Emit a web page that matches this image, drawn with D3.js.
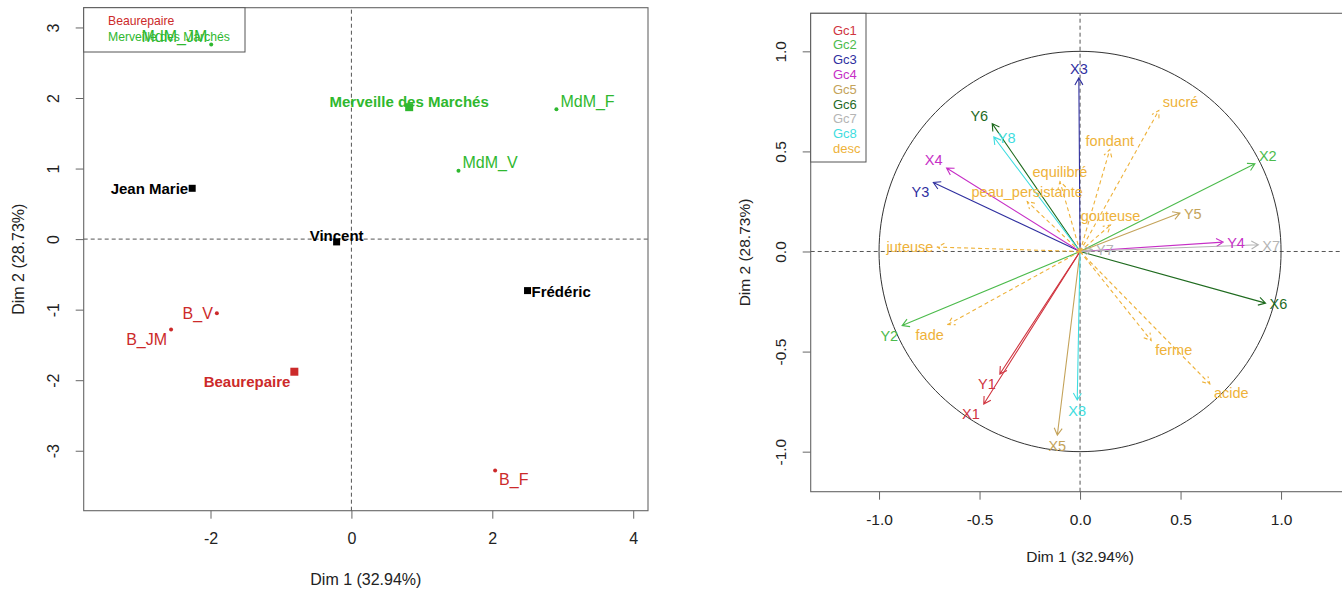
<!DOCTYPE html>
<html>
<head>
<meta charset="utf-8">
<script src="https://cdn.jsdelivr.net/npm/d3@7"></script>
<style>
  html, body { margin: 0; padding: 0; background: #fff; }
  svg { display: block; font-family: "Liberation Sans", Arial, Helvetica, sans-serif; }
</style>
</head>
<body>
<svg id="chart" width="1342" height="592"></svg>
<script>
// ---------------- Individuals (partial points per producer) ----------------
const indNames  = ["MdM_F", "MdM_V", "MdM_JM", "B_V", "B_JM", "B_F"];
const indDim1   = [2.91, 1.52, -1.99, -1.91, -2.56, 2.04];
const indDim2   = [1.84, 0.97, 2.76, -1.05, -1.28, -3.28];
const indGroup  = ["Merveille des Marchés", "Merveille des Marchés", "Merveille des Marchés",
                   "Beaurepaire", "Beaurepaire", "Beaurepaire"];

// Category centres (varieties and producers)
const catNames  = ["Merveille des Marchés", "Beaurepaire", "Jean Marie", "Vincent", "Frédéric"];
const catDim1   = [0.82, -0.81, -2.26, -0.21, 2.50];
const catDim2   = [1.87, -1.88, 0.72, -0.04, -0.73];
const catGroup  = ["Merveille des Marchés", "Beaurepaire", null, null, null];

const varieties = ["Beaurepaire", "Merveille des Marchés"];
const indTicksX = [-2, 0, 2, 4];
const indTicksY = [-3, -2, -1, 0, 1, 2, 3];

// ---------------- Variables (correlation circle) ----------------
const varNames = ["X1", "Y1", "X2", "Y2", "X3", "Y3", "X4", "Y4",
                  "X5", "Y5", "X6", "Y6", "X7", "Y7", "X8", "Y8",
                  "sucré", "fondant", "equilibré", "peau_persistante", "gouteuse",
                  "juteuse", "fade", "ferme", "acide"];
const varDim1  = [-0.479, -0.399, 0.870, -0.885, -0.006, -0.730, -0.664, 0.712,
                  -0.113, 0.497, 0.923, -0.437, 0.887, 0.060, -0.014, -0.429,
                  0.392, 0.148, -0.100, -0.263, 0.152,
                  -0.710, -0.658, 0.354, 0.646];
const varDim2  = [-0.762, -0.612, 0.438, -0.370, 0.867, 0.345, 0.417, 0.047,
                  -0.917, 0.192, -0.258, 0.639, 0.034, 0.010, -0.742, 0.572,
                  0.705, 0.509, 0.350, 0.250, 0.133,
                  0.022, -0.365, -0.445, -0.662];
const varGroup = ["Gc1", "Gc1", "Gc2", "Gc2", "Gc3", "Gc3", "Gc4", "Gc4",
                  "Gc5", "Gc5", "Gc6", "Gc6", "Gc7", "Gc7", "Gc8", "Gc8",
                  "desc", "desc", "desc", "desc", "desc",
                  "desc", "desc", "desc", "desc"];
const groups   = ["Gc1", "Gc2", "Gc3", "Gc4", "Gc5", "Gc6", "Gc7", "Gc8", "desc"];
const corTicks = [-1.0, -0.5, 0.0, 0.5, 1.0];

const dim1Title = "Dim 1 (32.94%)";
const dim2Title = "Dim 2 (28.73%)";

// ---------------- Styles ----------------
const varietyColor = d3.scaleOrdinal().domain(varieties).range(["#cc2a2a", "#2fb82f"]);
const groupColor = d3.scaleOrdinal().domain(groups)
  .range(["#d0343f", "#4cbb4c", "#2f2f9f", "#c62fc6", "#c4a35a", "#1f6b1f", "#b5b5b5", "#3fdde0", "#eeb23a"]);

// label placement codes (like R's text pos): anchor side and vertical shift
const place = {
  l:  { anchor: "end",    dx: -4, dy: 0 },
  r:  { anchor: "start",  dx: 4,  dy: 1 },
  la: { anchor: "end",    dx: -4, dy: -8 },
  ra: { anchor: "start",  dx: 4,  dy: -8 },
  lb: { anchor: "end",    dx: -4, dy: 10 },
  rb: { anchor: "start",  dx: 4,  dy: 9 },
  a:  { anchor: "middle", dx: 0,  dy: -9 },
  b:  { anchor: "middle", dx: 0,  dy: 11 },
  c:  { anchor: "middle", dx: 0,  dy: -6 }
};
const indLabelPos = { "MdM_F": "ra", "MdM_V": "ra", "MdM_JM": "la", "B_V": "l", "B_JM": "lb", "B_F": "rb" };
const catLabelPos = { "Merveille des Marchés": "c", "Beaurepaire": "lb", "Jean Marie": "l", "Vincent": "c", "Frédéric": "r" };
const varLabelPos = {
  X1: "lb", Y1: "lb", X2: "ra", Y2: "lb", X3: "a", Y3: "lb", X4: "la", Y4: "r",
  X5: "b", Y5: "r", X6: "r", Y6: "la", X7: "r", Y7: "r", X8: "b", Y8: "r",
  "sucré": "ra", "fondant": "a", "equilibré": "a", "peau_persistante": "a", "gouteuse": "a",
  "juteuse": "l", "fade": "lb", "ferme": "rb", "acide": "rb"
};

const svg = d3.select("#chart");
svg.append("rect").attr("width", 1342).attr("height", 592).attr("fill", "#fff");

// Draws the frame, axes and titles of one panel
function drawFrame(g, x, y, opt) {
  const [x0, x1] = x.range();
  const [y0, y1] = y.range();   // y0 bottom, y1 top
  g.append("rect")
    .attr("x", x0).attr("y", y1)
    .attr("width", x1 - x0).attr("height", y0 - y1)
    .attr("fill", "none").attr("stroke", "#666").attr("stroke-width", 1.1);

  const ax = g.append("g").attr("transform", `translate(0,${y0})`)
    .call(d3.axisBottom(x).tickValues(opt.ticksX).tickSize(8).tickPadding(opt.pad).tickFormat(opt.fmt));
  ax.select(".domain").remove();
  ax.selectAll("line").attr("stroke", "#666");
  ax.selectAll("text").attr("font-size", opt.font).attr("fill", "#222").style("font-family", "inherit");

  const ay = g.append("g").attr("transform", `translate(${x0},0)`)
    .call(d3.axisLeft(y).tickValues(opt.ticksY).tickSize(8).tickFormat(opt.fmt));
  ay.select(".domain").remove();
  ay.selectAll("line").attr("stroke", "#666");
  ay.selectAll("text")
    .attr("x", null).attr("dy", null)
    .attr("transform", `translate(${-opt.ylab},0) rotate(-90)`)
    .attr("text-anchor", "middle").attr("dominant-baseline", "central")
    .attr("font-size", opt.font).attr("fill", "#222").style("font-family", "inherit");

  g.append("text")
    .attr("x", (x0 + x1) / 2).attr("y", y0 + opt.xtitle)
    .attr("text-anchor", "middle").attr("dominant-baseline", "central")
    .attr("font-size", opt.font).attr("fill", "#222").text(dim1Title);
  g.append("text")
    .attr("transform", `translate(${x0 - opt.ytitle},${(y0 + y1) / 2}) rotate(-90)`)
    .attr("text-anchor", "middle").attr("dominant-baseline", "central")
    .attr("font-size", opt.font).attr("fill", "#222").text(dim2Title);

  // dashed origin lines
  g.append("line").attr("x1", x(0)).attr("x2", x(0)).attr("y1", y0).attr("y2", y1)
    .attr("stroke", "#555").attr("stroke-dasharray", "4,3");
  g.append("line").attr("x1", x0).attr("x2", x1).attr("y1", y(0)).attr("y2", y(0))
    .attr("stroke", "#555").attr("stroke-dasharray", "4,3");
}

function addLabel(g, px, py, code, text, color, size, weight) {
  const p = place[code];
  g.append("text")
    .attr("x", px + p.dx).attr("y", py + p.dy)
    .attr("text-anchor", p.anchor).attr("dominant-baseline", "central")
    .attr("font-size", size).attr("font-weight", weight || "normal")
    .attr("fill", color).text(text);
}

// ================= Left panel: individuals =================
const xI = d3.scaleLinear().domain([-3.80, 4.21]).range([83.7, 648]);
const yI = d3.scaleLinear().domain([-3.85, 3.28]).range([510.7, 7.7]);
const gL = svg.append("g");
drawFrame(gL, xI, yI, { ticksX: indTicksX, ticksY: indTicksY, fmt: d => String(d),
  font: 16, pad: 14, ylab: 30, xtitle: 69, ytitle: 65 });

// legend
const legL = gL.append("g");
legL.append("rect").attr("x", 83.7).attr("y", 7.7).attr("width", 161.3).attr("height", 44.3)
  .attr("fill", "#fff").attr("stroke", "#555");
varieties.forEach((v, i) => {
  legL.append("text").attr("x", 108).attr("y", 21 + i * 16)
    .attr("dominant-baseline", "central").attr("font-size", 12.2)
    .attr("fill", varietyColor(v)).text(v);
});

// partial points
indNames.forEach((n, i) => {
  const px = xI(indDim1[i]), py = yI(indDim2[i]);
  const col = varietyColor(indGroup[i]);
  gL.append("circle").attr("cx", px).attr("cy", py).attr("r", 2).attr("fill", col);
  addLabel(gL, px, py, indLabelPos[n], n, col, 16);
});

// category centres
catNames.forEach((n, i) => {
  const px = xI(catDim1[i]), py = yI(catDim2[i]);
  const col = catGroup[i] ? varietyColor(catGroup[i]) : "#000";
  const s = catGroup[i] ? 8 : 7;
  gL.append("rect").attr("x", px - s / 2).attr("y", py - s / 2).attr("width", s).attr("height", s).attr("fill", col);
  addLabel(gL, px, py, catLabelPos[n], n, col, 15, "bold");
});

// ================= Right panel: correlation circle =================
const xV = d3.scaleLinear().domain([-1.34, 1.34]).range([810.7, 1349.4]);
const yV = d3.scaleLinear().domain([-1.2, 1.19]).range([491.7, 13.3]);
const gR = svg.append("g");
gR.append("defs").append("clipPath").attr("id", "clipR")
  .append("rect").attr("x", 810.7).attr("y", 13.3).attr("width", 538.7).attr("height", 478.4);
drawFrame(gR, xV, yV, { ticksX: corTicks, ticksY: corTicks, fmt: d => d.toFixed(1),
  font: 15.5, pad: 14, ylab: 30, xtitle: 65, ytitle: 66 });

const inner = gR.append("g").attr("clip-path", "url(#clipR)");

// unit circle
const circ = d3.range(0, 361, 2).map(a => [Math.cos(a * Math.PI / 180), Math.sin(a * Math.PI / 180)]);
inner.append("path")
  .attr("d", d3.line().x(d => xV(d[0])).y(d => yV(d[1]))(circ))
  .attr("fill", "none").attr("stroke", "#333").attr("stroke-width", 1);

// arrows
const cx0 = xV(0), cy0 = yV(0);
varNames.forEach((n, i) => {
  const tx = xV(varDim1[i]), ty = yV(varDim2[i]);
  const col = groupColor(varGroup[i]);
  const dash = varGroup[i] === "desc" ? "4,3" : null;
  const ang = Math.atan2(ty - cy0, tx - cx0);
  const L = 8, h = Math.PI / 6;
  const path = `M${cx0},${cy0}L${tx},${ty}` +
    `M${tx - L * Math.cos(ang - h)},${ty - L * Math.sin(ang - h)}L${tx},${ty}` +
    `L${tx - L * Math.cos(ang + h)},${ty - L * Math.sin(ang + h)}`;
  inner.append("path").attr("d", path).attr("fill", "none")
    .attr("stroke", col).attr("stroke-width", 1.1).attr("stroke-dasharray", dash);
});
varNames.forEach((n, i) => {
  const tx = xV(varDim1[i]), ty = yV(varDim2[i]);
  addLabel(inner, tx, ty, varLabelPos[n], n, groupColor(varGroup[i]), 14.5);
});

// legend
const legR = gR.append("g");
legR.append("rect").attr("x", 810.7).attr("y", 13.3).attr("width", 55.3).attr("height", 148.7)
  .attr("fill", "#fff").attr("stroke", "#555");
groups.forEach((gname, i) => {
  legR.append("text").attr("x", 833).attr("y", 30 + i * 14.8)
    .attr("dominant-baseline", "central").attr("font-size", 13)
    .attr("fill", groupColor(gname)).text(gname);
});
</script>
</body>
</html>
